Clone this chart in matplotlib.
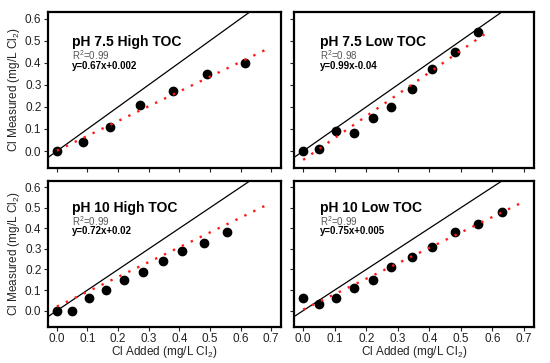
import matplotlib
matplotlib.use("Agg")
import matplotlib.pyplot as plt
import numpy as np

plt.rcParams['font.family'] = ['Liberation Sans', 'DejaVu Sans']
plt.rcParams['mathtext.fontset'] = 'custom'
plt.rcParams['mathtext.rm'] = 'Liberation Sans'
plt.rcParams['mathtext.it'] = 'Liberation Sans:italic'
plt.rcParams['mathtext.bf'] = 'Liberation Sans:bold'

titles = ["pH 7.5 High TOC", "pH 7.5 Low TOC", "pH 10 High TOC", "pH 10 Low TOC"]
r2_labels = ["R$^2$=0.99", "R$^2$=0.98", "R$^2$=0.99", "R$^2$=0.99"]
eq_labels = ["y=0.67x+0.002", "y=0.99x-0.04", "y=0.72x+0.02", "y=0.75x+0.005"]
slopes = [0.67, 0.99, 0.72, 0.75]
intercepts = [0.002, -0.04, 0.02, 0.005]
fit_end = [0.68, 0.59, 0.68, 0.69]

x_hi75 = [0.0, 0.085, 0.175, 0.27, 0.38, 0.49, 0.615]
y_hi75 = [0.0, 0.04, 0.11, 0.21, 0.27, 0.35, 0.40]
x_lo75 = [0.0, 0.05, 0.105, 0.16, 0.22, 0.28, 0.345, 0.41, 0.48, 0.555]
y_lo75 = [0.0, 0.01, 0.09, 0.08, 0.15, 0.20, 0.28, 0.37, 0.45, 0.54]
x_hi10 = [0.0, 0.05, 0.105, 0.16, 0.22, 0.28, 0.345, 0.41, 0.48, 0.555]
y_hi10 = [0.0, 0.0, 0.06, 0.10, 0.15, 0.19, 0.24, 0.29, 0.33, 0.38]
x_lo10 = [0.0, 0.05, 0.105, 0.16, 0.22, 0.28, 0.345, 0.41, 0.48, 0.555, 0.63]
y_lo10 = [0.06, 0.03, 0.06, 0.11, 0.15, 0.21, 0.26, 0.31, 0.38, 0.42, 0.48]

xs = [x_hi75, x_lo75, x_hi10, x_lo10]
ys = [y_hi75, y_lo75, y_hi10, y_lo10]

xticks = [0.0, 0.1, 0.2, 0.3, 0.4, 0.5, 0.6, 0.7]
yticks = [0.0, 0.1, 0.2, 0.3, 0.4, 0.5, 0.6]

fig = plt.figure(figsize=(5.5, 3.63), dpi=100)
positions = [
    [0.0867, 0.5364, 0.4242, 0.4306],
    [0.534, 0.5364, 0.4369, 0.4306],
    [0.0867, 0.100, 0.4242, 0.4014],
    [0.534, 0.100, 0.4369, 0.4014],
]

for i in range(4):
    ax = fig.add_axes(positions[i])
    ax.set_xlim(-0.03, 0.732)
    ax.set_ylim(-0.078, 0.63)
    ax.axline((0, 0), slope=1, color='black', lw=0.9, zorder=1)
    xf = np.array([0.0, fit_end[i]])
    ax.plot(xf, slopes[i] * xf + intercepts[i], color='#ff1a1a',
            linestyle=(0, (1, 3.2)), lw=1.7, zorder=3)
    ax.plot(xs[i], ys[i], 'o', color='black', markersize=6, zorder=2)
    ax.set_xticks(xticks)
    ax.set_yticks(yticks)
    ax.tick_params(direction='out', length=3, width=0.8, pad=1.5, labelsize=8.5,
                   colors='#222222', labelcolor='#222222')
    for s in ax.spines.values():
        s.set_linewidth(1.6)
    if i < 2:
        ax.set_xticklabels([])
    else:
        ax.set_xticklabels([f"{v:.1f}" for v in xticks])
        ax.set_xlabel("Cl Added (mg/L Cl$_2$)", fontsize=8.5, color='#222222', va='center')
        ax.xaxis.set_label_coords(0.5, -0.172)
    if i % 2 == 1:
        ax.set_yticklabels([])
    else:
        ax.set_yticklabels([f"{v:.1f}" for v in yticks])
        ax.set_ylabel("Cl Measured (mg/L Cl$_2$)", fontsize=8.5, color='#222222', va='center')
        ax.yaxis.set_label_coords(-0.145, 0.5)
    tx = 0.103 if i % 2 == 0 else 0.108
    ax.text(tx, 0.785, titles[i], transform=ax.transAxes, fontsize=10,
            fontweight='bold', ha='left', va='baseline')
    ax.text(tx, 0.694, r2_labels[i], transform=ax.transAxes, fontsize=7,
            color='#555555', ha='left', va='baseline')
    ax.text(tx, 0.634, eq_labels[i], transform=ax.transAxes, fontsize=7,
            fontweight='bold', ha='left', va='baseline')

fig.savefig("out.png", dpi=100)
